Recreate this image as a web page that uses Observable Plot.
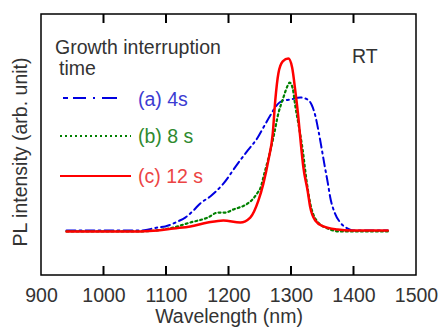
<!DOCTYPE html>
<html>
<head>
<meta charset="utf-8">
<script src="https://cdn.jsdelivr.net/npm/d3@7"></script>
<script src="https://cdn.jsdelivr.net/npm/@observablehq/plot@0.6"></script>
<style>
  html, body { margin: 0; padding: 0; background: #fff; }
</style>
</head>
<body>
<div id="chart"></div>
<script>
// ---- data ----
const xTickLabels = [900, 1000, 1100, 1200, 1300, 1400, 1500];
const innerTicks = [1000, 1100, 1200, 1300, 1400];

const wl4s = [940, 994, 1058, 1086, 1098, 1118, 1130, 1143, 1154, 1170, 1191, 1214, 1230, 1246, 1255, 1266, 1276, 1286, 1298, 1314, 1326, 1332, 1338, 1343, 1348, 1353, 1358, 1362, 1369, 1378, 1390, 1402, 1426, 1454];
const pl4s = [0.172, 0.172, 0.172, 0.184, 0.188, 0.207, 0.222, 0.249, 0.276, 0.303, 0.352, 0.429, 0.479, 0.529, 0.567, 0.613, 0.651, 0.670, 0.674, 0.682, 0.674, 0.655, 0.613, 0.556, 0.490, 0.421, 0.356, 0.299, 0.241, 0.203, 0.180, 0.172, 0.172, 0.172];

const wl8s = [940, 1058, 1111, 1138, 1166, 1182, 1194, 1207, 1230, 1239, 1246, 1250, 1257, 1263, 1271, 1279, 1287, 1294, 1297, 1302, 1306, 1311, 1318, 1324, 1330, 1340, 1358, 1378, 1410, 1454];
const pl8s = [0.169, 0.169, 0.184, 0.203, 0.222, 0.241, 0.241, 0.253, 0.276, 0.295, 0.318, 0.333, 0.395, 0.448, 0.529, 0.621, 0.682, 0.728, 0.739, 0.716, 0.651, 0.582, 0.479, 0.364, 0.276, 0.211, 0.180, 0.169, 0.169, 0.169];

const wl12s = [940, 994, 1058, 1086, 1111, 1138, 1166, 1191, 1218, 1234, 1247, 1255, 1263, 1270, 1274, 1279, 1286, 1295, 1301, 1306, 1311, 1314, 1319, 1326, 1330, 1338, 1351, 1374, 1394, 1426, 1454];
const pl12s = [0.169, 0.169, 0.169, 0.172, 0.180, 0.188, 0.203, 0.211, 0.203, 0.222, 0.287, 0.352, 0.441, 0.544, 0.670, 0.774, 0.820, 0.831, 0.797, 0.709, 0.605, 0.529, 0.414, 0.322, 0.261, 0.211, 0.188, 0.176, 0.172, 0.172, 0.172];

const seriesNames = ["(a) 4s", "(b) 8 s", "(c) 12 s"];
const legendTitle = ["Growth interruption", "time"];
const annotation = "RT";
const xLabel = "Wavelength (nm)";
const yLabel = "PL intensity (arb. unit)";

// ---- styles ----
const FONT = "'Liberation Sans', Arial, sans-serif";
const styles = [
  {stroke: "#0000e0", strokeWidth: 2, dash: "9,4,2,4", text: "#3c3cd2"},
  {stroke: "#008000", strokeWidth: 2.2, dash: "2,3", text: "#2f8a2f"},
  {stroke: "#ff0000", strokeWidth: 2.5, dash: null, text: "#ec4444"}
];

const toRows = (wl, pl) => wl.map((w, i) => ({w, v: pl[i]}));
const rows = [toRows(wl4s, pl4s), toRows(wl8s, pl8s), toRows(wl12s, pl12s)];

function decor(index, scales, values, dims) {
  const L = dims.marginLeft, T = dims.marginTop;
  const R = dims.width - dims.marginRight, B = dims.height - dims.marginBottom;
  const g = d3.create("svg:g").attr("text-anchor", "start");
  // frame
  g.append("rect").attr("x", L).attr("y", T).attr("width", R - L).attr("height", B - T)
    .attr("fill", "none").attr("stroke", "#000").attr("stroke-width", 1.5);
  // inward ticks, top and bottom
  for (const t of innerTicks) {
    const x = scales.x(t);
    g.append("line").attr("x1", x).attr("x2", x).attr("y1", B).attr("y2", B - 9)
      .attr("stroke", "#000").attr("stroke-width", 2);
    g.append("line").attr("x1", x).attr("x2", x).attr("y1", T).attr("y2", T + 9)
      .attr("stroke", "#000").attr("stroke-width", 2);
  }
  // legend
  const txt = (s, x, y, fill) => g.append("text").attr("x", x).attr("y", y)
    .attr("text-anchor", "start")
    .attr("fill", fill).attr("font-size", 19.5).attr("font-family", FONT).text(s);
  txt(legendTitle[0], L + 14, T + 40, "#333");
  txt(legendTitle[1], L + 18, T + 61, "#333");
  const sampleY = [84, 122, 162];
  const sampleX = [[22, 80], [19, 90], [19, 90]];
  const labelY = [92, 129, 169];
  styles.forEach((s, i) => {
    const ln = g.append("line")
      .attr("x1", L + sampleX[i][0]).attr("x2", L + sampleX[i][1])
      .attr("y1", T + sampleY[i]).attr("y2", T + sampleY[i])
      .attr("stroke", s.stroke).attr("stroke-width", i === 2 ? 1.8 : 2);
    if (s.dash) ln.attr("stroke-dasharray", i === 0 ? "5,5,13,7,2,7,15" : s.dash);
    txt(seriesNames[i], L + 97, T + labelY[i], s.text);
  });
  txt(annotation, L + 311, T + 49, "#333");
  return g.node();
}

const chart = Plot.plot({
  width: 438,
  height: 327,
  marginLeft: 41,
  marginRight: 22,
  marginTop: 14,
  marginBottom: 52,
  style: {fontFamily: FONT, fontSize: "19.5px", background: "#fff", color: "#333"},
  x: {domain: [900, 1500], axis: null},
  y: {domain: [0, 1], axis: null},
  marks: [
    ...rows.map((r, i) => Plot.line(r, {
      x: "w", y: "v", stroke: styles[i].stroke, strokeWidth: styles[i].strokeWidth,
      strokeDasharray: styles[i].dash, curve: "monotone-x"
    })),
    Plot.text(xTickLabels, {x: d => d, text: d => String(d), frameAnchor: "bottom", lineAnchor: "top", dy: 13,
      fontSize: 19.5, fill: "#333", textAnchor: "middle"}),
    Plot.text([xLabel], {frameAnchor: "bottom", lineAnchor: "top", dy: 34,
      fontSize: 19.5, fill: "#333", textAnchor: "middle"}),
    Plot.text([yLabel], {frameAnchor: "left", rotate: -90, dx: -21, dy: 7,
      fontSize: 19.5, fill: "#333", textAnchor: "middle"}),
    decor
  ]
});
document.getElementById("chart").appendChild(chart);
</script>
</body>
</html>
